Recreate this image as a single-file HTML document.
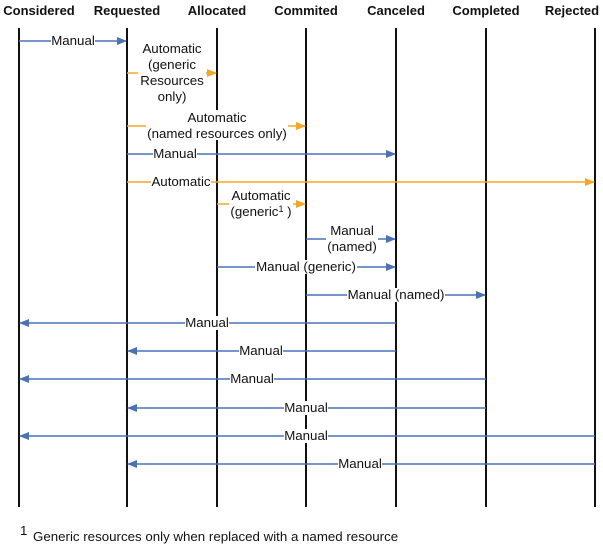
<!DOCTYPE html>
<html><head><meta charset="utf-8"><style>
html,body{margin:0;padding:0;background:#fff;}
svg{display:block;}
text{font-family:"Liberation Sans",Arial,sans-serif;font-size:13.3px;fill:#111;}
.h{font-weight:bold;font-size:13px;}
</style></head><body>
<svg width="603" height="546" viewBox="0 0 603 546" xmlns="http://www.w3.org/2000/svg">
<defs>
<marker id="ab" markerWidth="10" markerHeight="8" refX="9" refY="4" orient="auto" markerUnits="userSpaceOnUse"><path d="M0,0 L10,4 L0,8 Z" fill="#4a72b8"/></marker>
<marker id="ao" markerWidth="10" markerHeight="8" refX="9" refY="4" orient="auto" markerUnits="userSpaceOnUse"><path d="M0,0 L10,4 L0,8 Z" fill="#f5a623"/></marker>
</defs>
<g text-anchor="middle">
<text class="h" x="39" y="15">Considered</text>
<text class="h" x="127" y="15">Requested</text>
<text class="h" x="217" y="15">Allocated</text>
<text class="h" x="306" y="15">Commited</text>
<text class="h" x="396" y="15">Canceled</text>
<text class="h" x="486" y="15">Completed</text>
<text class="h" x="572" y="15">Rejected</text>
</g>
<g stroke="#111" stroke-width="2">
<line x1="19" y1="28" x2="19" y2="507"/>
<line x1="127" y1="28" x2="127" y2="507"/>
<line x1="217" y1="28" x2="217" y2="507"/>
<line x1="306" y1="28" x2="306" y2="507"/>
<line x1="396" y1="28" x2="396" y2="507"/>
<line x1="486" y1="28" x2="486" y2="507"/>
<line x1="595" y1="28" x2="595" y2="507"/>
</g>
<g stroke-width="1.5">
<line x1="19" y1="41" x2="126" y2="41" stroke="#4a72b8" marker-end="url(#ab)"/>
<line x1="127" y1="73" x2="216" y2="73" stroke="#f5a623" marker-end="url(#ao)"/>
<line x1="127" y1="126" x2="305" y2="126" stroke="#f5a623" marker-end="url(#ao)"/>
<line x1="127" y1="154" x2="395" y2="154" stroke="#4a72b8" marker-end="url(#ab)"/>
<line x1="127" y1="182" x2="594" y2="182" stroke="#f5a623" marker-end="url(#ao)"/>
<line x1="217" y1="204" x2="305" y2="204" stroke="#f5a623" marker-end="url(#ao)"/>
<line x1="306" y1="239" x2="395" y2="239" stroke="#4a72b8" marker-end="url(#ab)"/>
<line x1="217" y1="267" x2="395" y2="267" stroke="#4a72b8" marker-end="url(#ab)"/>
<line x1="306" y1="295" x2="485" y2="295" stroke="#4a72b8" marker-end="url(#ab)"/>
<line x1="396" y1="323" x2="20" y2="323" stroke="#4a72b8" marker-end="url(#ab)"/>
<line x1="396" y1="351" x2="128" y2="351" stroke="#4a72b8" marker-end="url(#ab)"/>
<line x1="486" y1="379" x2="20" y2="379" stroke="#4a72b8" marker-end="url(#ab)"/>
<line x1="486" y1="408" x2="128" y2="408" stroke="#4a72b8" marker-end="url(#ab)"/>
<line x1="595" y1="436" x2="20" y2="436" stroke="#4a72b8" marker-end="url(#ab)"/>
<line x1="595" y1="464" x2="128" y2="464" stroke="#4a72b8" marker-end="url(#ab)"/>
</g>
<g fill="#fff">
<rect x="51" y="34" width="44" height="14"/>
<rect x="138" y="40" width="68" height="64"/>
<rect x="146" y="110" width="142" height="30"/>
<rect x="153" y="147" width="44" height="14"/>
<rect x="151" y="175" width="60" height="14"/>
<rect x="229" y="188" width="64" height="30"/>
<rect x="326" y="223" width="52" height="30"/>
<rect x="255" y="260" width="102" height="14"/>
<rect x="347" y="288" width="98" height="14"/>
<rect x="185" y="316" width="44" height="14"/>
<rect x="239" y="344" width="44" height="14"/>
<rect x="230" y="372" width="44" height="14"/>
<rect x="284" y="401" width="44" height="14"/>
<rect x="284" y="429" width="44" height="14"/>
<rect x="338" y="457" width="44" height="14"/>
</g>
<g text-anchor="middle">
<text x="73" y="45">Manual</text>
<text x="172" y="53">Automatic</text>
<text x="172" y="69">(generic</text>
<text x="172" y="85">Resources</text>
<text x="172" y="101">only)</text>
<text x="217" y="122">Automatic</text>
<text x="217" y="138">(named resources only)</text>
<text x="175" y="158">Manual</text>
<text x="181" y="186">Automatic</text>
<text x="261" y="200">Automatic</text>
<text x="261" y="216">(generic<tspan font-size="9" dy="-4">1</tspan><tspan dy="4"> )</tspan></text>
<text x="352" y="235">Manual</text>
<text x="352" y="251">(named)</text>
<text x="306" y="271">Manual (generic)</text>
<text x="396" y="299">Manual (named)</text>
<text x="207" y="327">Manual</text>
<text x="261" y="355">Manual</text>
<text x="252" y="383">Manual</text>
<text x="306" y="412">Manual</text>
<text x="306" y="440">Manual</text>
<text x="360" y="468">Manual</text>
</g>
<text x="20" y="535" font-size="9">1</text>
<text x="33" y="541">Generic resources only when replaced with a named resource</text>
</svg>
</body></html>
